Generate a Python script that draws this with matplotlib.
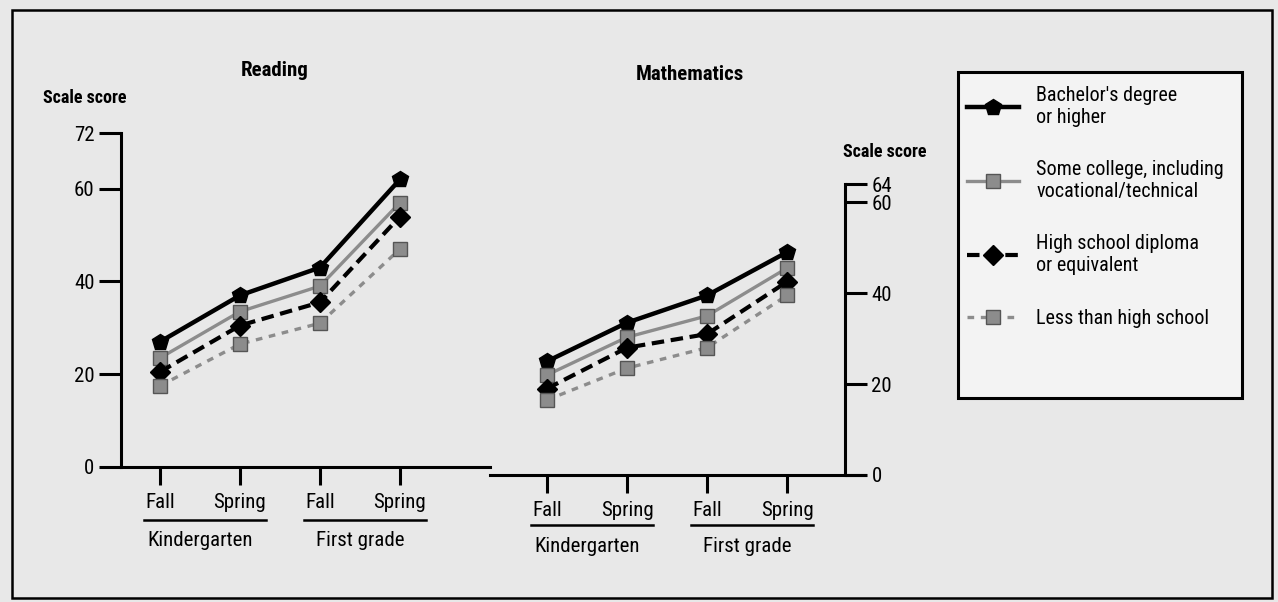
import matplotlib
matplotlib.use("Agg")
import matplotlib.pyplot as plt
from matplotlib.lines import Line2D
from matplotlib.patches import Rectangle
import matplotlib.transforms as mtransforms
from matplotlib import font_manager

names = {f.name for f in font_manager.fontManager.ttflist}
condensed = [n for n in ["Liberation Sans Narrow", "Roboto Condensed", "Open Sans Condensed",
                         "Noto Sans Condensed", "DejaVu Sans Condensed"] if n in names]
if condensed:
    fam = [condensed[0], "DejaVu Sans"]
    FS = 15
else:
    fam = ["Lato", "DejaVu Sans"]
    FS = 13
plt.rcParams['font.family'] = fam

# ---------------- data ----------------
time_points = ["Fall", "Spring", "Fall", "Spring"]
grades = ["Kindergarten", "First grade"]
series_names = ["Bachelor's degree\nor higher",
                "Some college, including\nvocational/technical",
                "High school diploma\nor equivalent",
                "Less than high school"]

reading_bach = [27, 37, 43, 62]
reading_some = [23.5, 33.5, 39, 57]
reading_hs = [20.5, 30.5, 35.5, 54]
reading_lt = [17.5, 26.5, 31, 47]

math_bach = [25, 33.5, 39.5, 49]
math_some = [22, 30.3, 35, 45.5]
math_hs = [19, 28, 31, 42.5]
math_lt = [16.5, 23.5, 28, 39.5]

reading_ticks = [0, 20, 40, 60, 72]
math_ticks = [0, 20, 40, 60, 64]

# ---------------- styles ----------------
styles = [
    dict(color="black", lw=3.2, ls="-", marker="p", ms=12, mfc="black", mec="black"),
    dict(color="#8c8c8c", lw=2.4, ls="-", marker="s", ms=10, mfc="#8c8c8c", mec="#555555"),
    dict(color="black", lw=3.0, ls=(0, (3, 1.6)), marker="D", ms=10, mfc="black", mec="black"),
    dict(color="#8c8c8c", lw=2.4, ls=(0, (2, 2)), marker="s", ms=10, mfc="#8c8c8c", mec="#555555"),
]

W, H = 1278, 602
fig = plt.figure(figsize=(W / 100, H / 100), dpi=100)
fig.patch.set_facecolor("#e8e8e8")

def px(x0, y0, x1, y1):
    return [x0 / W, 1 - y1 / H, (x1 - x0) / W, (y1 - y0) / H]

axL = fig.add_axes(px(121, 133, 490, 467))
axR = fig.add_axes(px(490, 184, 865, 475))

x = list(range(len(time_points)))
spine_w = 2.2

for ax, data, ticks, ylim in [
    (axL, [reading_bach, reading_some, reading_hs, reading_lt], reading_ticks, 72),
    (axR, [math_bach, math_some, math_hs, math_lt], math_ticks, 64),
]:
    ax.set_facecolor("none")
    for d, st in zip(data, styles):
        ax.plot(x, d, **st, zorder=3)
    ax.set_ylim(0, ylim)
    ax.set_yticks(ticks)
    ax.set_xticks(x)
    ax.set_xticklabels(time_points, fontsize=FS)
    ax.tick_params(axis="x", direction="out", length=13, width=spine_w, pad=6)
    ax.tick_params(axis="y", direction="out", length=16, width=spine_w, pad=3, labelsize=FS)
    ax.spines["top"].set_visible(False)
    ax.spines["bottom"].set_linewidth(spine_w)

axL.set_xlim(-0.4875, 4.125)
axL.spines["right"].set_visible(False)
axL.spines["left"].set_linewidth(spine_w)

axR.set_xlim(-0.7125, 3.975)
axR.spines["left"].set_visible(False)
axR.spines["right"].set_position(("data", 3.725))
axR.spines["right"].set_linewidth(spine_w)
axR.yaxis.tick_right()

# group labels with underline
for ax, line_y, text_y in [(axL, 520, 540), (axR, 525, 547)]:
    tr = mtransforms.blended_transform_factory(ax.transData, fig.transFigure)
    for gi, g in enumerate(grades):
        a, b = 2 * gi, 2 * gi + 1
        fig.add_artist(Line2D([a - 0.2, b + 0.33], [1 - line_y / H] * 2, transform=tr,
                              color="black", lw=1.8))
        ax.text((a + b) / 2, 1 - text_y / H, g, transform=tr, ha="center", va="center",
                fontsize=FS, clip_on=False)

# titles and axis labels
fig.text(275 / W, 1 - 70 / H, "Reading", ha="center", va="center", fontsize=FS, fontweight="bold")
fig.text(690 / W, 1 - 75 / H, "Mathematics", ha="center", va="center", fontsize=FS, fontweight="bold")
fig.text(85 / W, 1 - 98 / H, "Scale score", ha="center", va="center", fontsize=FS - 2, fontweight="bold")
fig.text(885 / W, 1 - 152 / H, "Scale score", ha="center", va="center", fontsize=FS - 2, fontweight="bold")

# legend box
fig.add_artist(Rectangle((958 / W, 1 - 398 / H), (1242 - 958) / W, (398 - 72) / H,
                         transform=fig.transFigure, facecolor="#f3f3f3", edgecolor="black",
                         lw=2.2, zorder=1))
handles = [Line2D([], [], **st) for st in styles]
leg = fig.legend(handles, series_names, loc="upper left",
                 bbox_to_anchor=(967 / W, 1 - 86 / H),
                 fontsize=FS - 0.5, frameon=False,
                 handlelength=2.6, handletextpad=0.85, labelspacing=1.65,
                 borderpad=0, borderaxespad=0)
leg.set_zorder(2)

# outer frame
fig.add_artist(Rectangle((12 / W, 1 - 598 / H), (1272 - 12) / W, (598 - 10) / H,
                         transform=fig.transFigure, fill=False, edgecolor="black", lw=1.8))

fig.savefig("out.png", dpi=100, facecolor=fig.get_facecolor())
